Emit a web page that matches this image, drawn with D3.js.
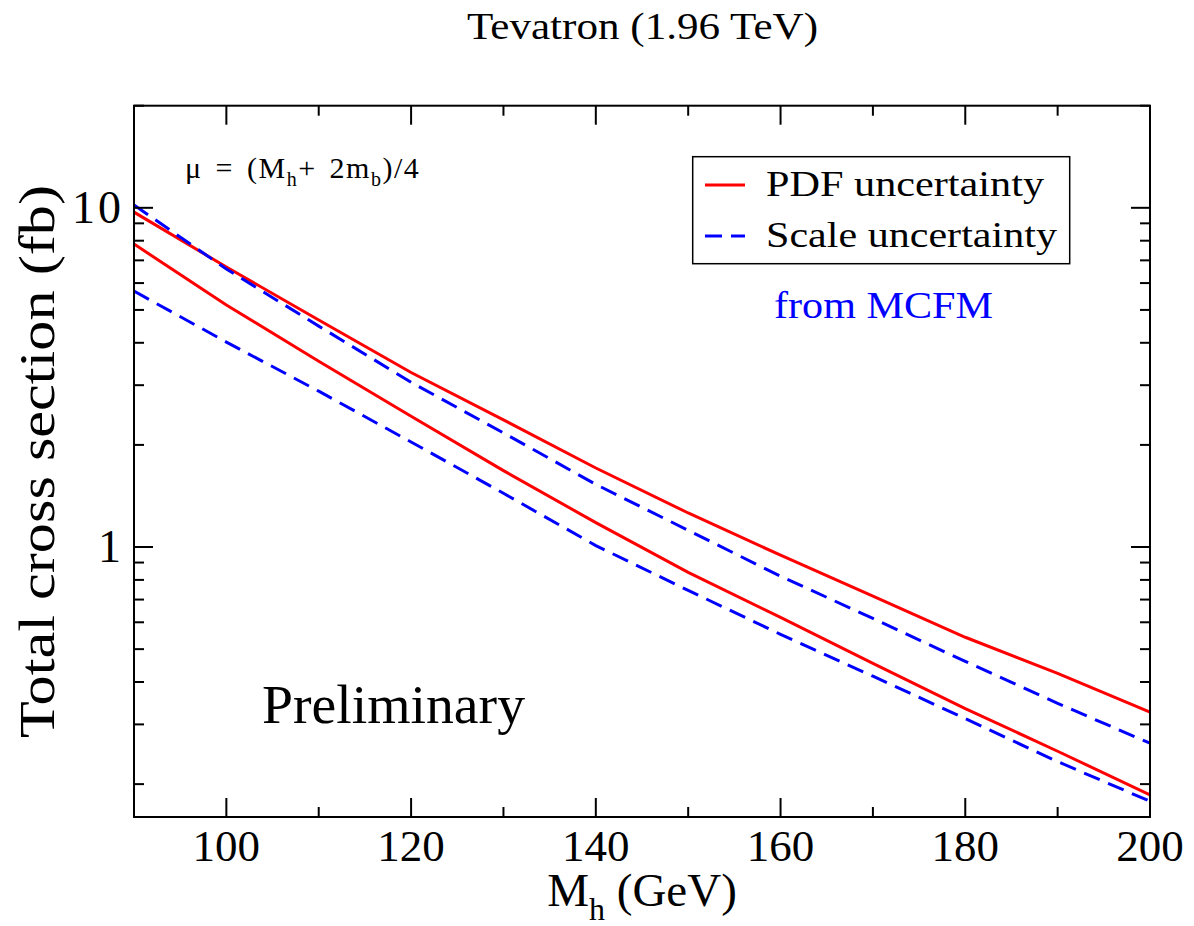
<!DOCTYPE html>
<html lang="en">
<head>
<meta charset="UTF-8">
<title>Tevatron cross section</title>
<script src="https://cdn.jsdelivr.net/npm/d3@7"></script>
<style>
  body, html { margin: 0; padding: 0; background: #fff; }
  svg { font-family: 'Liberation Serif', 'Times New Roman', serif; }
</style>
</head>
<body>
<div id="chart"></div>
<script>
// masses (GeV)
const masses = [90, 100, 110, 120, 130, 140, 150, 160, 170, 180, 190, 200]
// PDF uncertainty band (fb)
const pdfUpper = [9.71, 6.69, 4.67, 3.27, 2.37, 1.71, 1.26, 0.946, 0.716, 0.542, 0.424, 0.326]
const pdfLower = [7.82, 5.17, 3.53, 2.43, 1.68, 1.18, 0.842, 0.620, 0.454, 0.334, 0.250, 0.186]
// scale uncertainty band (fb)
const scaleUpper = [10.19, 6.60, 4.48, 3.06, 2.17, 1.53, 1.12, 0.820, 0.616, 0.460, 0.346, 0.264]
const scaleLower = [5.68, 4.02, 2.88, 2.04, 1.44, 1.01, 0.745, 0.553, 0.416, 0.312, 0.233, 0.178]

const xMajor = [100, 120, 140, 160, 180, 200]
const xMinor = [110, 130, 150, 170, 190]
const yMajor = [1, 10]
const yMinor = [0.2, 0.3, 0.4, 0.5, 0.6, 0.7, 0.8, 0.9, 2, 3, 4, 5, 6, 7, 8, 9, 20]

const W = 1194, H = 926
const m = { left: 134, top: 105.7, right: 1150, bottom: 817 }

const svg = d3.select("#chart").append("svg")
    .attr("width", W).attr("height", H)

const x = d3.scaleLinear().domain([90, 200]).range([m.left, m.right])
const y = d3.scaleLog().domain([0.16, 20]).range([m.bottom, m.top])

// curves
svg.append("clipPath").attr("id", "clip")
    .append("rect").attr("x", m.left).attr("y", m.top)
    .attr("width", m.right - m.left).attr("height", m.bottom - m.top)

const line = d3.line().x((d, i) => x(masses[i])).y(d => y(d))
const curves = [
    { vals: pdfUpper, color: "#ff0000", dash: null },
    { vals: pdfLower, color: "#ff0000", dash: null },
    { vals: scaleUpper, color: "#0000ff", dash: "17,9" },
    { vals: scaleLower, color: "#0000ff", dash: "17,9" }
]
svg.append("g").attr("clip-path", "url(#clip)")
    .selectAll("path").data(curves).enter().append("path")
    .attr("d", d => line(d.vals))
    .attr("fill", "none")
    .attr("stroke", d => d.color)
    .attr("stroke-width", 3)
    .attr("stroke-dasharray", d => d.dash)

// frame
svg.append("rect")
    .attr("x", m.left).attr("y", m.top)
    .attr("width", m.right - m.left).attr("height", m.bottom - m.top)
    .attr("fill", "none").attr("stroke", "#000").attr("stroke-width", 2)

// ticks, inward on all four sides
const big = 19, small = 10
const tk = svg.append("g").attr("stroke", "#000").attr("stroke-width", 2)
xMajor.concat(xMinor).forEach(v => {
    const len = xMajor.includes(v) ? big : small
    tk.append("line").attr("x1", x(v)).attr("x2", x(v)).attr("y1", m.bottom).attr("y2", m.bottom - len)
    tk.append("line").attr("x1", x(v)).attr("x2", x(v)).attr("y1", m.top).attr("y2", m.top + len)
})
yMajor.concat(yMinor).forEach(v => {
    const len = yMajor.includes(v) ? big : small
    tk.append("line").attr("y1", y(v)).attr("y2", y(v)).attr("x1", m.left).attr("x2", m.left + len)
    tk.append("line").attr("y1", y(v)).attr("y2", y(v)).attr("x1", m.right).attr("x2", m.right - len)
})

// tick labels
svg.append("g").selectAll("text").data(xMajor).enter().append("text")
    .attr("x", d => x(d)).attr("y", m.bottom + 44)
    .attr("text-anchor", "middle").attr("font-size", 45)
    .text(d => d)
svg.append("g").selectAll("text").data(yMajor).enter().append("text")
    .attr("x", m.left - 10).attr("y", d => y(d) + 15)
    .attr("text-anchor", "end").attr("font-size", 46)
    .attr("letter-spacing", 3)
    .text(d => d)

// title
svg.append("text").attr("x", 467).attr("y", 39)
    .attr("font-size", 38)
    .attr("textLength", 351).attr("lengthAdjust", "spacingAndGlyphs")
    .text("Tevatron (1.96 TeV)")

// x label
const xl = svg.append("text").attr("x", 642).attr("y", 906)
    .attr("text-anchor", "middle").attr("font-size", 47)
xl.append("tspan").text("M")
xl.append("tspan").attr("font-size", 32).attr("dy", 14).text("h")
xl.append("tspan").attr("dy", -14).text(" (GeV)")

// y label
svg.append("text")
    .attr("transform", `translate(54, 738) rotate(-90)`)
    .attr("font-size", 50)
    .attr("textLength", 553).attr("lengthAdjust", "spacingAndGlyphs")
    .text("Total cross section (fb)")

// scale choice
const mu = svg.append("text").attr("x", 185).attr("y", 178).attr("font-size", 30)
    .attr("letter-spacing", 1.5).attr("word-spacing", 4)
mu.append("tspan").text("\u03bc = (M")
mu.append("tspan").attr("font-size", 20).attr("dy", 8).text("h")
mu.append("tspan").attr("dy", -8).text("+ 2m")
mu.append("tspan").attr("font-size", 20).attr("dy", 8).text("b")
mu.append("tspan").attr("dy", -8).text(")/4")

// legend
const lg = svg.append("g")
lg.append("rect").attr("x", 692.7).attr("y", 156.7).attr("width", 377).attr("height", 107)
    .attr("fill", "#fff").attr("stroke", "#000").attr("stroke-width", 1.5)
const items = [
    { label: "PDF uncertainty", color: "#ff0000", dash: null, yy: 185, len: 278 },
    { label: "Scale uncertainty", color: "#0000ff", dash: "17,9", yy: 236, len: 291 }
]
items.forEach(it => {
    lg.append("line").attr("x1", 705).attr("x2", 745).attr("y1", it.yy).attr("y2", it.yy)
        .attr("stroke", it.color).attr("stroke-width", 3).attr("stroke-dasharray", it.dash)
    lg.append("text").attr("x", 766).attr("y", it.yy + 11).attr("font-size", 35)
        .attr("textLength", it.len).attr("lengthAdjust", "spacingAndGlyphs")
        .text(it.label)
})

svg.append("text").attr("x", 774).attr("y", 318).attr("font-size", 38)
    .attr("fill", "#0000ff")
    .attr("textLength", 219).attr("lengthAdjust", "spacingAndGlyphs")
    .text("from MCFM")

svg.append("text").attr("x", 262).attr("y", 723).attr("font-size", 54)
    .attr("textLength", 263).attr("lengthAdjust", "spacingAndGlyphs")
    .text("Preliminary")
</script>
</body>
</html>
